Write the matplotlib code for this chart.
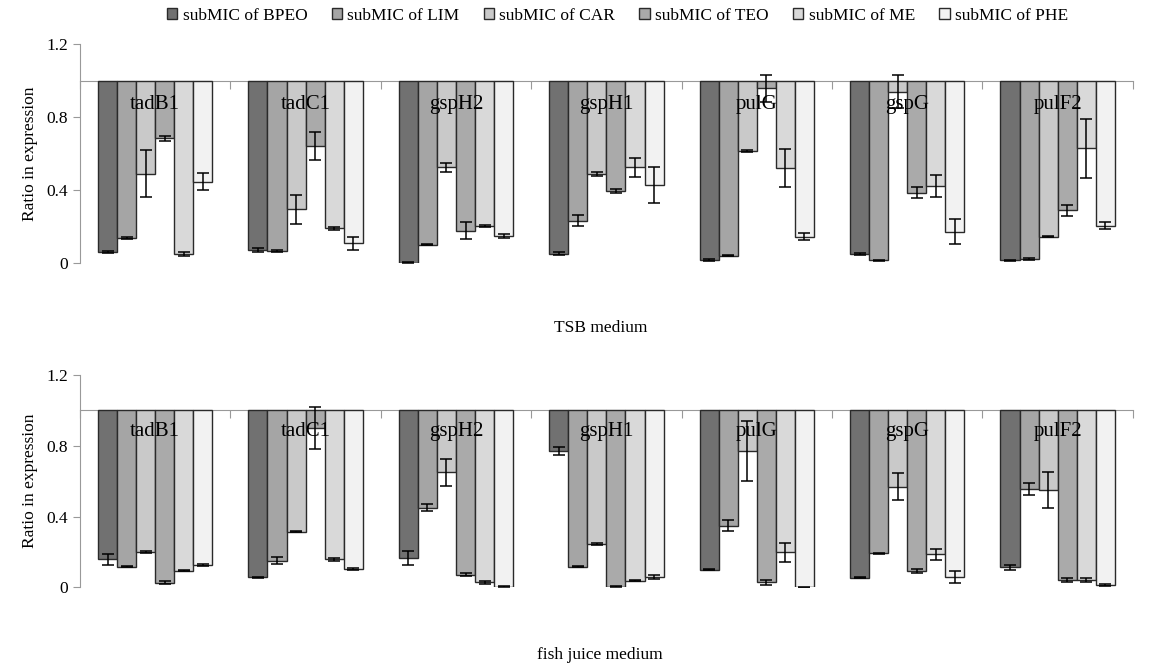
import numpy as np
import matplotlib.pyplot as plt
from matplotlib.patches import Patch

plt.rcParams['font.family'] = ['Liberation Serif', 'DejaVu Serif']

genes = ['tadB1', 'tadC1', 'gspH2', 'gspH1', 'pulG', 'gspG', 'pulF2']
treatments = ['subMIC of BPEO', 'subMIC of LIM', 'subMIC of CAR',
              'subMIC of TEO', 'subMIC of ME', 'subMIC of PHE']
colors = ['#717171', '#a5a5a5', '#c9c9c9', '#aaaaaa', '#d9d9d9', '#f2f2f2']

# ratio in expression, one row per treatment, one column per gene
tsb_vals = [
    [0.06, 0.07, 0.002, 0.05, 0.016, 0.05, 0.016],   # BPEO
    [0.135, 0.066, 0.10, 0.232, 0.04, 0.016, 0.022], # LIM
    [0.49, 0.294, 0.524, 0.488, 0.614, 0.939, 0.144],# CAR
    [0.683, 0.641, 0.177, 0.396, 0.957, 0.385, 0.29],# TEO
    [0.05, 0.19, 0.203, 0.524, 0.519, 0.422, 0.628], # ME
    [0.446, 0.108, 0.148, 0.427, 0.144, 0.172, 0.205]# PHE
]
tsb_err = [
    [0.005, 0.01, 0.002, 0.008, 0.005, 0.005, 0.003],
    [0.005, 0.003, 0.003, 0.03, 0.003, 0.003, 0.003],
    [0.13, 0.08, 0.025, 0.01, 0.005, 0.09, 0.003],
    [0.012, 0.075, 0.045, 0.01, 0.073, 0.03, 0.03],
    [0.012, 0.01, 0.005, 0.053, 0.105, 0.06, 0.163],
    [0.045, 0.035, 0.01, 0.097, 0.02, 0.07, 0.02]
]
fj_vals = [
    [0.158, 0.057, 0.164, 0.77, 0.098, 0.055, 0.113],
    [0.117, 0.149, 0.45, 0.117, 0.349, 0.192, 0.556],
    [0.20, 0.315, 0.65, 0.243, 0.77, 0.569, 0.55],
    [0.026, 0.90, 0.07, 0.004, 0.028, 0.092, 0.041],
    [0.094, 0.158, 0.028, 0.038, 0.198, 0.187, 0.041],
    [0.126, 0.104, 0.004, 0.057, 0.0, 0.06, 0.013]
]
fj_err = [
    [0.03, 0.003, 0.04, 0.025, 0.003, 0.003, 0.015],
    [0.003, 0.02, 0.02, 0.003, 0.033, 0.003, 0.032],
    [0.005, 0.003, 0.075, 0.005, 0.17, 0.077, 0.104],
    [0.01, 0.12, 0.008, 0.002, 0.015, 0.01, 0.01],
    [0.003, 0.01, 0.01, 0.003, 0.053, 0.032, 0.01],
    [0.003, 0.005, 0.002, 0.01, 0.002, 0.033, 0.003]
]

fig = plt.figure(figsize=(11.52, 6.63), dpi=100)
ax1 = fig.add_axes([0.0694, 0.6033, 0.914, 0.3303])
ax2 = fig.add_axes([0.0694, 0.1142, 0.914, 0.3202])

bw = 0.1267
x = np.arange(len(genes)) + 0.5


def draw(ax, vals, errs, xlabel, label_y):
    for i in range(len(treatments)):
        v = np.array(vals[i])
        xi = x + (i - 2.5) * bw
        ax.bar(xi, 1 - v, bottom=v, width=bw, color=colors[i],
               edgecolor='#2a2a2a', linewidth=1.0, zorder=2)
        ax.errorbar(xi, v, yerr=errs[i], fmt='none', ecolor='black',
                    elinewidth=1.1, capsize=4.5, capthick=1.1, zorder=3)
    for g, name in enumerate(genes):
        ax.text(x[g], label_y, name, ha='center', va='center', fontsize=15,
                zorder=4)
    ax.set_xlim(0, len(genes))
    ax.set_ylim(0, 1.2)
    ax.set_yticks([0, 0.4, 0.8, 1.2])
    ax.set_yticklabels(['0', '0.4', '0.8', '1.2'], fontsize=12.5)
    ax.set_xticks(np.arange(len(genes) + 1))
    ax.set_xticklabels([])
    for s in ['top', 'right']:
        ax.spines[s].set_visible(False)
    ax.spines['bottom'].set_position(('data', 1.0))
    ax.spines['bottom'].set_color('#999999')
    ax.spines['left'].set_color('#999999')
    ax.spines['bottom'].set_zorder(1)
    ax.tick_params(axis='x', direction='out', length=6, color='#999999')
    ax.tick_params(axis='y', direction='out', length=5, color='#999999')
    ax.set_ylabel('Ratio in expression', fontsize=12.5, labelpad=6)
    return ax


draw(ax1, tsb_vals, tsb_err, 'TSB medium', 0.866)
draw(ax2, fj_vals, fj_err, 'fish juice medium', 0.88)

fig.text(0.521, 1 - 328 / 663, 'TSB medium', ha='center', va='center',
         fontsize=12.5)
fig.text(0.521, 1 - 655 / 663, 'fish juice medium', ha='center',
         va='center', fontsize=12.5)

handles = [Patch(facecolor=c, edgecolor='#2a2a2a', linewidth=1.0)
           for c in colors]
fig.legend(handles, treatments, loc='center', ncol=6, frameon=False,
           bbox_to_anchor=(0.536, 1 - 16 / 663), fontsize=12.5,
           handlelength=0.6, handleheight=0.6, handletextpad=0.3,
           columnspacing=1.4)

fig.savefig('out.png', dpi=100)
